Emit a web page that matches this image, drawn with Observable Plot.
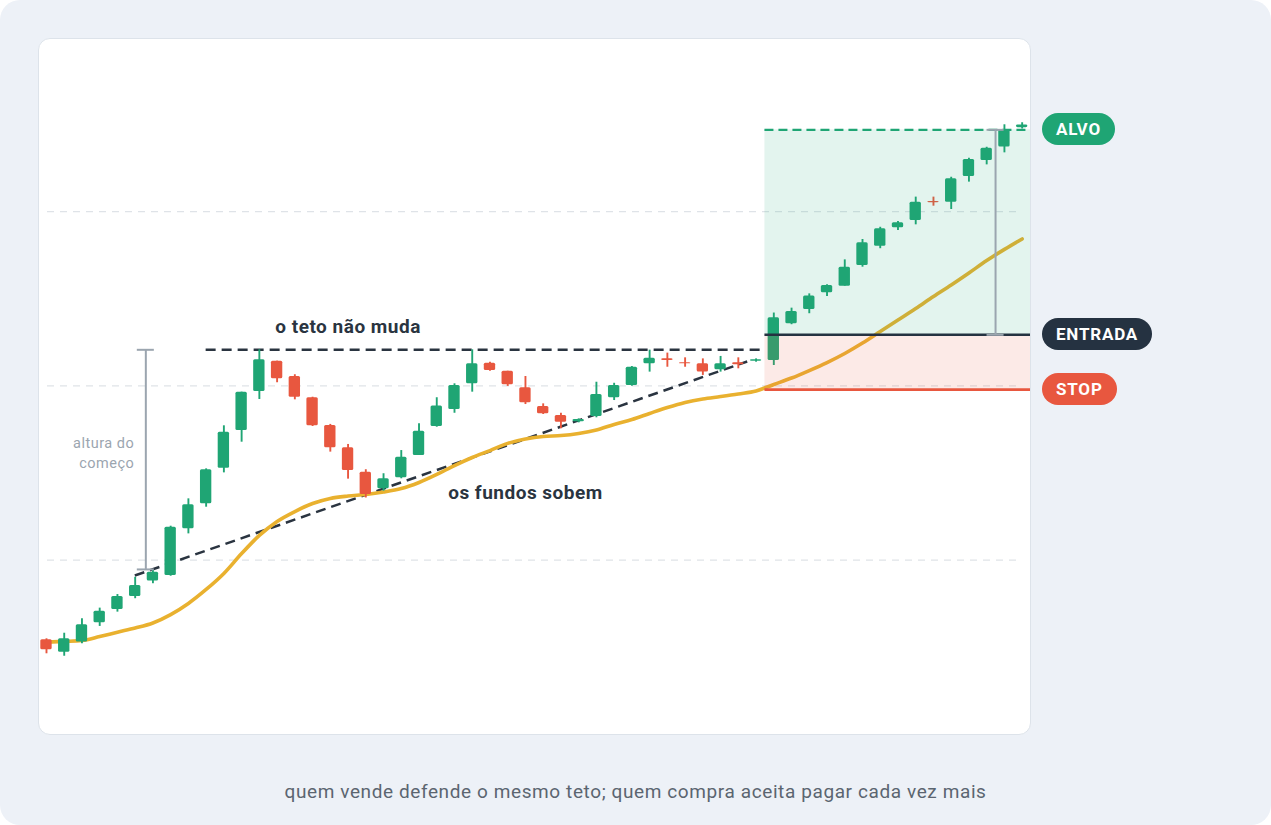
<!DOCTYPE html>
<html><head><meta charset="utf-8">
<script src="https://cdn.jsdelivr.net/npm/d3@7"></script>
<script src="https://cdn.jsdelivr.net/npm/@observablehq/plot@0.6"></script>
<style>
html,body{margin:0;padding:0;background:#ffffff;}
#page{position:relative;width:1271px;height:825px;background:#edf1f7;border-radius:20px;overflow:hidden;font-family:Roboto,"Noto Sans",sans-serif;}
#panel{position:absolute;left:38px;top:38px;width:993px;height:697px;background:#fff;border:1.5px solid #dde3ea;border-radius:12px;box-sizing:border-box;}
#chart{position:absolute;left:0;top:0;}
#chart svg text{letter-spacing:0.5px;}
.pill{position:absolute;left:1042px;height:32px;line-height:32px;padding:0 14px;border-radius:16px;color:#fff;font-weight:700;font-size:17px;letter-spacing:0.8px;transform:translateY(-50%);}
#caption{position:absolute;left:0;right:0;top:780px;text-align:center;color:#5b6570;font-size:19px;letter-spacing:0.6px;}
</style></head>
<body><div id="page"><div id="panel"></div><div id="chart"></div><div id="caption"></div></div>
<script>
// candles (index = position in array)
const opens  = [95.43,94.72,95.30,96.41,97.17,97.92,98.80,99.12,101.80,103.24,105.28,107.44,109.68,111.42,110.54,109.32,107.73,106.45,105.05,104.10,104.73,106.01,107.67,108.65,110.12,111.30,110.84,109.89,108.82,108.30,107.94,108.24,109.32,110.02,111.27,111.55,111.33,111.27,110.92,111.33,111.42,111.46,113.56,114.38,115.34,115.72,116.91,118.01,119.07,119.49,120.58,120.54,122.01,122.93,123.70,124.81];
const highs  = [95.49,95.81,96.64,97.25,98.03,99.02,99.41,101.95,103.52,105.24,107.71,109.64,112.07,111.42,110.64,109.35,107.79,106.64,105.19,104.96,106.29,107.83,109.32,110.12,112.07,111.36,110.84,110.54,108.97,108.43,108.11,110.21,110.15,111.11,112.05,111.88,111.61,111.55,111.69,111.61,111.55,114.18,114.46,115.28,115.80,117.23,118.40,119.10,119.43,120.83,120.83,121.97,123.06,123.69,124.98,125.09];
const lows   = [94.63,94.49,95.20,96.20,97.02,97.79,98.65,99.08,101.51,103.04,105.01,106.77,109.22,110.18,109.20,107.67,106.20,104.65,103.57,103.96,104.67,106.01,107.63,108.43,109.64,110.84,109.97,108.93,108.36,107.54,107.88,108.17,109.16,109.98,110.79,111.07,111.07,110.60,110.79,110.98,111.36,111.17,113.51,114.14,115.13,115.72,116.81,117.87,118.92,119.24,120.31,120.12,121.69,122.68,123.37,124.74];
const closes = [94.86,95.49,96.29,97.07,97.92,98.55,99.31,101.89,103.18,105.19,107.34,109.64,111.50,110.41,109.35,107.71,106.45,105.15,103.77,104.67,105.91,107.40,108.84,110.02,111.27,110.88,110.06,109.03,108.40,107.92,108.07,109.51,110.02,111.07,111.59,111.46,111.27,110.79,111.27,111.21,111.50,113.91,114.27,115.15,115.76,116.81,118.21,119.01,119.36,120.54,120.51,121.88,122.99,123.64,124.71,124.97];
// moving average (one value per candle)
const maValues = [95.30,95.34,95.39,95.62,95.87,96.11,96.40,96.88,97.52,98.32,99.24,100.38,101.42,102.22,102.79,103.25,103.54,103.68,103.77,103.91,104.11,104.46,104.92,105.43,105.89,106.29,106.70,106.95,107.10,107.15,107.27,107.47,107.79,108.07,108.42,108.76,109.05,109.25,109.39,109.54,109.71,110.08,110.45,110.88,111.34,111.86,112.46,113.12,113.78,114.44,115.13,115.79,116.48,117.19,117.83,118.43];

const gridValues = [100, 110, 120];
const xDomain = [-0.45, 55.47];
const yDomain = [90, 129.93];

const ceilingLevel = 112.07;
const ceilingFrom = 9;
const breakoutAt = 40.5;
const alvoLevel = 124.69, entradaLevel = 112.93, stopLevel = 109.78;
const supportFrom = {i: 4.98, p: 99.12};
const supportTo   = {i: 39.5, p: 111.40};
const heightBracket = {i: 5.6, from: 99.47, to: 112.07};
const targetBracket = {i: 53.5, from: 112.93, to: 124.69};

const labelTeto   = {i: 17.0, p: 113.41, text: "o teto não muda"};
const labelFundos = {i: 27.0, p: 103.88, text: "os fundos sobem"};
const labelAltura = {i: 4.95, p: 106.24, text: "altura do\ncomeço"};
const levelLabels = ["ALVO", "ENTRADA", "STOP"];
const captionText = "quem vende defende o mesmo teto; quem compra aceita pagar cada vez mais";

const GREEN = "#1fa574", RED = "#e8573f", DARK = "#253241", GRAY = "#9ba5af", GOLD = "#e9b12f";

const candles = opens.map((o, i) => ({i, open: o, high: highs[i], low: lows[i], close: closes[i], up: closes[i] >= o}));
const ma = maValues.map((v, i) => ({i, v}));
const capHalf = 0.48, bodyHalf = 0.32;
const brackets = [heightBracket, targetBracket];
const caps = brackets.flatMap(b => [{i: b.i, p: b.from}, {i: b.i, p: b.to}]);

const chart = Plot.plot({
  width: 1271, height: 760,
  marginTop: 38, marginBottom: 26, marginLeft: 38, marginRight: 241,
  x: {domain: xDomain, axis: null},
  y: {domain: yDomain, axis: null},
  style: {background: "transparent", overflow: "visible", fontFamily: "Roboto, 'Noto Sans', sans-serif"},
  marks: [
    Plot.ruleY(gridValues, {stroke: "#dfe3e8", strokeWidth: 1.2, strokeDasharray: "7,6", insetLeft: 9, insetRight: 14}),
    Plot.link([{x1: supportFrom.i, y1: supportFrom.p, x2: supportTo.i, y2: supportTo.p}], {x1: "x1", y1: "y1", x2: "x2", y2: "y2", stroke: "#2a3440", strokeWidth: 2.5, strokeDasharray: "10,6"}),
    Plot.ruleY([ceilingLevel], {x1: ceilingFrom, x2: breakoutAt, stroke: "#2a3440", strokeWidth: 2.5, strokeDasharray: "10,6"}),
    Plot.line(ma, {x: "i", y: "v", stroke: GOLD, strokeWidth: 3.6, curve: "monotone-x"}),
    Plot.ruleX(candles, {x: "i", y1: "low", y2: "high", stroke: d => d.up ? GREEN : RED, strokeWidth: 1.9}),
    Plot.rect(candles, {x1: d => d.i - bodyHalf, x2: d => d.i + bodyHalf, y1: "open", y2: "close", fill: d => d.up ? GREEN : RED, rx: 1.5}),
    Plot.rect([{y1: entradaLevel, y2: alvoLevel}], {x1: breakoutAt, x2: xDomain[1], y1: "y1", y2: "y2", fill: GREEN, fillOpacity: 0.125}),
    Plot.rect([{y1: stopLevel, y2: entradaLevel}], {x1: breakoutAt, x2: xDomain[1], y1: "y1", y2: "y2", fill: RED, fillOpacity: 0.125}),
    Plot.ruleY([alvoLevel], {x1: breakoutAt, x2: xDomain[1], stroke: GREEN, strokeWidth: 2.2, strokeDasharray: "9,5"}),
    Plot.ruleY([entradaLevel], {x1: breakoutAt, x2: xDomain[1], stroke: DARK, strokeWidth: 2.6}),
    Plot.ruleY([stopLevel], {x1: breakoutAt, x2: xDomain[1], stroke: RED, strokeWidth: 2.8}),
    Plot.ruleX(brackets, {x: "i", y1: "from", y2: "to", stroke: GRAY, strokeWidth: 2}),
    Plot.ruleY(caps, {y: "p", x1: d => d.i - capHalf, x2: d => d.i + capHalf, stroke: GRAY, strokeWidth: 2}),
    Plot.text([labelTeto, labelFundos], {x: "i", y: "p", text: "text", fill: "#2a3440", fontSize: 19, fontWeight: 700}),
    Plot.text([labelAltura], {x: "i", y: "p", text: "text", fill: GRAY, fontSize: 14.5, textAnchor: "end", lineHeight: 1.4})
  ]
});
document.getElementById("chart").appendChild(chart);
document.getElementById("caption").textContent = captionText;

const ys = chart.scale("y");
const page = document.getElementById("page");
[[levelLabels[0], alvoLevel, GREEN], [levelLabels[1], entradaLevel, DARK], [levelLabels[2], stopLevel, RED]].forEach(([t, v, c]) => {
  const s = document.createElement("div");
  s.className = "pill";
  s.textContent = t;
  s.style.background = c;
  s.style.top = ys.apply(v) + "px";
  page.appendChild(s);
});
</script>
</body></html>
